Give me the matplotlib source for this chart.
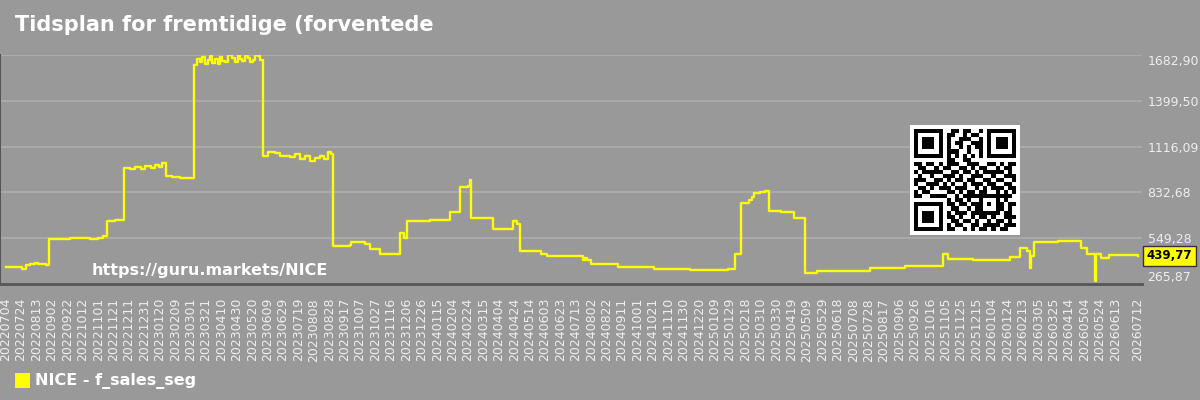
import numpy as np
import pandas as pd
import matplotlib
matplotlib.use('Agg')
import matplotlib.pyplot as plt
import matplotlib.transforms as mtransforms
from matplotlib.patches import Rectangle

# Series (step changes, value holds until next date).
dates = ['2022-07-04', '2022-07-22', '2022-07-25', '2022-07-30', '2022-08-04',
         '2022-08-11', '2022-08-15', '2022-08-25', '2022-08-29', '2022-09-25',
         '2022-10-21', '2022-11-01', '2022-11-07', '2022-11-13', '2022-11-23',
         '2022-12-05', '2022-12-12', '2022-12-19', '2022-12-26', '2023-01-01',
         '2023-01-08', '2023-01-14', '2023-01-19', '2023-01-23', '2023-01-28',
         '2023-02-05', '2023-02-15', '2023-03-05', '2023-03-06', '2023-03-09',
         '2023-03-13', '2023-03-16', '2023-03-20', '2023-03-23', '2023-03-26',
         '2023-03-29', '2023-04-02', '2023-04-05', '2023-04-08', '2023-04-11',
         '2023-04-15', '2023-04-19', '2023-04-24', '2023-04-27', '2023-05-01',
         '2023-05-04', '2023-05-07', '2023-05-10', '2023-05-14', '2023-05-17',
         '2023-05-21', '2023-05-24', '2023-05-27', '2023-05-30', '2023-06-02',
         '2023-06-03', '2023-06-10', '2023-06-18', '2023-06-25', '2023-07-08',
         '2023-07-15', '2023-07-21', '2023-07-27', '2023-08-03', '2023-08-10',
         '2023-08-16', '2023-08-21', '2023-08-26', '2023-08-30',
         '2023-09-02', '2023-09-24', '2023-09-25', '2023-10-13', '2023-10-20',
         '2023-11-02', '2023-11-28', '2023-12-03', '2023-12-07', '2024-01-06',
         '2024-01-25', '2024-02-01', '2024-02-13', '2024-02-24', '2024-02-27',
         '2024-02-28', '2024-03-28', '2024-04-23', '2024-04-28', '2024-05-02',
         '2024-05-29', '2024-06-05', '2024-07-22', '2024-07-25', '2024-07-28',
         '2024-08-02', '2024-09-06', '2024-10-22', '2024-12-08', '2025-01-27',
         '2025-02-04', '2025-02-12', '2025-02-23', '2025-02-26', '2025-03-01',
         '2025-03-09', '2025-03-15', '2025-03-21', '2025-04-05', '2025-04-22',
         '2025-05-07', '2025-05-22', '2025-07-30', '2025-09-13', '2025-10-29',
         '2025-11-02', '2025-11-08', '2025-12-11', '2026-01-28', '2026-02-10',
         '2026-02-18', '2026-02-22', '2026-02-24', '2026-02-27', '2026-03-31',
         '2026-04-29', '2026-05-07', '2026-05-18', '2026-05-19', '2026-05-26',
         '2026-06-05', '2026-07-12']
values = [373, 368, 357, 385, 390,
          398, 392, 385, 544, 548,
          545, 550, 560, 657, 662,
          985, 975, 990, 980, 995,
          985, 1000, 990, 1015, 935,
          925, 920, 935, 1620, 1660,
          1640, 1670, 1630, 1655, 1675,
          1635, 1660, 1625, 1670, 1645,
          1640, 1680, 1665, 1640, 1690,
          1660, 1645, 1675, 1665, 1640,
          1650, 1680, 1675, 1655, 1650,
          1060, 1080, 1075, 1060, 1050,
          1070, 1040, 1055, 1030, 1045,
          1055, 1040, 1080, 1070,
          501, 510, 527, 513, 480,
          450, 580, 552, 657, 660,
          662, 711, 868, 875, 909,
          676, 604, 656, 640, 470,
          451, 439, 414, 425, 414,
          390, 369, 359, 353, 360,
          452, 769, 785, 806, 827,
          833, 840, 719, 712, 672,
          336, 346, 367, 375, 379,
          451, 419, 414, 431, 487,
          470, 363, 440, 524, 534,
          487, 450, 284, 450, 429,
          445, 439.77]

y_ticks = [265.87, 549.28, 832.68, 1116.09, 1399.50, 1682.90]
last_value = 439.77
title = 'Tidsplan for fremtidige (forventede'
series_name = 'NICE - f_sales_seg'
watermark = 'https://guru.markets/NICE'

# QR-like badge (decorative)
qr_rows = [
    '1111111001101100101111111', '1000001011001011001000001',
    '1011101010011100101011101', '1011101010110011101011101',
    '1011101010010101101011101', '1000001011100100101000001',
    '1111111010101010101111111', '0000000011001100000000000',
    '1101101011100111001101011', '0110010110011010110010110',
    '1011111001101101011111010', '0100100111010011100100111',
    '1110011010110110011011001', '1001110101001011101100110',
    '0110101110111001010111011', '1011000011010110110010101',
    '1100111100101111111001110', '0000000010110100011010100',
    '1111111011011011101111011', '1000001001100101101101010',
    '1011101010111011111110110', '1011101011010010110100111',
    '1011101001101101001011010', '1000001010110011011110111',
    '1111111011001010110101100']

BG = '#999999'
fig = plt.figure(figsize=(12, 4), dpi=100, facecolor=BG)
ax = fig.add_axes([0.0, (400 - 284) / 400, 1142 / 1200, (284 - 55) / 400])
ax.set_facecolor(BG)

x = pd.to_datetime(dates)
ax.plot(x, values, color='#ffff00', lw=1.7, drawstyle='steps-post', zorder=3)

start = pd.Timestamp('2022-07-04')
ax.set_xlim(start - pd.Timedelta(days=7.4), start + pd.Timedelta(days=1474.8))
ax.set_ylim(y_ticks[0], y_ticks[-1])

ticks = list(pd.date_range('2022-07-04', '2026-06-13', freq='20D')) + [pd.Timestamp('2026-07-12')]
ax.set_xticks(ticks)
ax.set_xticklabels([t.strftime('%Y%m%d') for t in ticks], rotation=90,
                   fontsize=9, color='#eeeeee')
ax.tick_params(axis='x', length=0, pad=10)

ax.yaxis.tick_right()
ax.set_yticks(y_ticks)
ax.set_yticklabels([('%.2f' % v).replace('.', ',') for v in y_ticks],
                   fontsize=9, color='#eeeeee')
ax.tick_params(axis='y', length=0, pad=4)
ylabs = ax.get_yticklabels()
ylabs[0].set_va('bottom')
ylabs[-1].set_va('top')

ax.grid(axis='y', color='#aaaaaa', lw=1.5)
ax.grid(axis='x', visible=False)
for s in ['top', 'right']:
    ax.spines[s].set_visible(False)
ax.spines['bottom'].set_color('#555555')
ax.spines['bottom'].set_linewidth(2)
ax.spines['left'].set_color('#555555')
ax.spines['left'].set_linewidth(1.5)

# current value box
trans = mtransforms.blended_transform_factory(ax.transAxes, ax.transData)
ax.text(1.004, last_value, ('%.2f' % last_value).replace('.', ','),
        transform=trans, ha='left', va='center', fontsize=8.5,
        fontweight='bold', color='black', clip_on=False, zorder=5,
        bbox=dict(boxstyle='square,pad=0.3', facecolor='#ffff00',
                  edgecolor='#333333', lw=1))

# watermark
fig.text(92 / 1200, 1 - 270 / 400, watermark, fontsize=11.5, fontweight='bold',
         color='white', va='center', ha='left')

# title
fig.text(15 / 1200, 1 - 25 / 400, title, fontsize=15, fontweight='bold',
         color='white', va='center', ha='left')

# legend
fig.patches.append(Rectangle((15 / 1200, 1 - 388 / 400), 15 / 1200, 15 / 400,
                             transform=fig.transFigure, facecolor='#ffff00',
                             edgecolor='none'))
fig.text(35 / 1200, 1 - 381 / 400, series_name, fontsize=11.5,
         fontweight='bold', color='white', va='center', ha='left')

# QR badge
qr = np.array([[int(c) for c in r] for r in qr_rows])
def finder(r0, c0):
    qr[max(r0 - 1, 0):r0 + 8, max(c0 - 1, 0):c0 + 8] = 0
    qr[r0:r0 + 7, c0:c0 + 7] = 1
    qr[r0 + 1:r0 + 6, c0 + 1:c0 + 6] = 0
    qr[r0 + 2:r0 + 5, c0 + 2:c0 + 5] = 1
finder(0, 0)
finder(0, 18)
finder(18, 0)
qr[16:21, 16:21] = 1
qr[17:20, 17:20] = 0
qr[18, 18] = 1
qax = fig.add_axes([910 / 1200, 1 - 235 / 400, 110 / 1200, 110 / 400])
padded = np.zeros((27, 27), dtype=int)
padded[1:26, 1:26] = qr
qax.imshow(1 - padded, cmap='gray', interpolation='nearest', vmin=0, vmax=1)
qax.axis('off')

fig.savefig('out.png', dpi=100, facecolor=BG)
